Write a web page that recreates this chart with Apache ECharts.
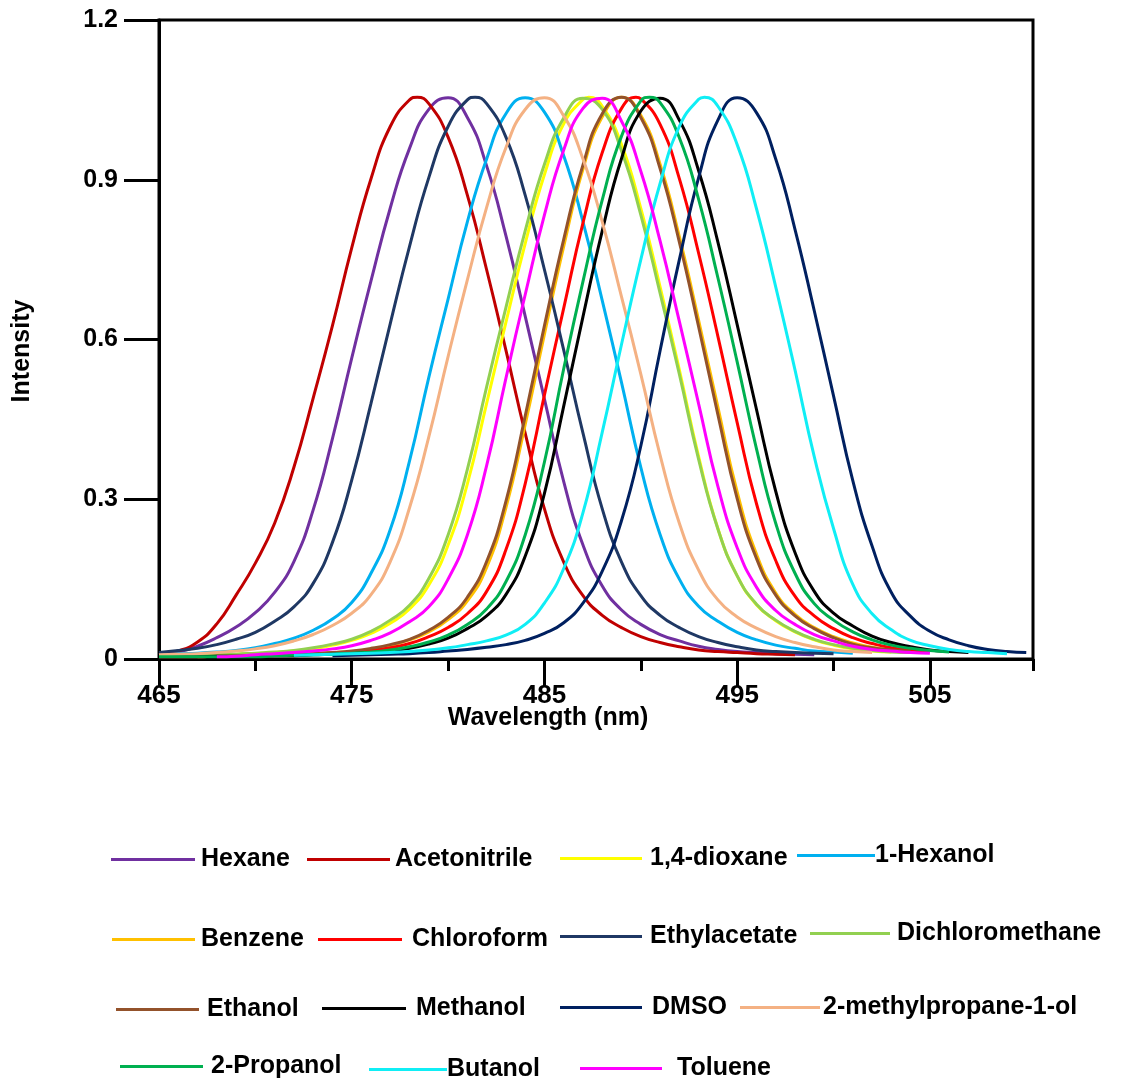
<!DOCTYPE html>
<html>
<head>
<meta charset="utf-8">
<title>Emission spectra in solvents</title>
<script src="https://cdn.jsdelivr.net/npm/echarts@6.0.0/dist/echarts.min.js"></script>
<style>
  html, body { margin: 0; padding: 0; background: #fff; }
  #chart { width: 1121px; height: 1084px; }
</style>
</head>
<body>
<div id="chart"></div>
<script>
// wavelength grid (nm), one value per nm
const wavelength = [465, 466, 467, 468, 469, 470, 471, 472, 473, 474, 475, 476, 477, 478, 479,
  480, 481, 482, 483, 484, 485, 486, 487, 488, 489, 490, 491, 492, 493, 494,
  495, 496, 497, 498, 499, 500, 501, 502, 503, 504, 505, 506, 507, 508, 509, 510]

// intensities (null = no line drawn there)
const hexane = [.008, .013, .024, .040, .060, .087, .125, .183, .280, .414, .565, .710, .847, .959, 1.032,
  1.054, 1.017, .926, .795, .644, .488, .333, .214, .137, .092, .065, .046, .034, .024, .018,
  .014, .012, .010, .009, .008, null, null, null, null, null, null, null, null, null, null, null]
const acetonitrile = [.008, .015, .032, .066, .12, .18, .255, .36, .49, .626, .772, .902, 1.0, 1.05, 1.043,
  .98, .871, .731, .58, .424, .282, .182, .119, .082, .059, .042, .031, .023, .017, .014,
  .012, .010, .009, .008, null, null, null, null, null, null, null, null, null, null, null, null]
const dioxane = [null, null, null, .008, .009, .010, .012, .015, .019, .026, .035, .048, .067, .094, .139,
  .214, .329, .480, .632, .780, .910, 1.005, 1.051, 1.038, .966, .846, .699, .543, .380, .245,
  .156, .102, .072, .051, .036, .026, .019, .015, .013, null, null, null, null, null, null, null]
const hexanol = [.008, .010, .011, .013, .016, .021, .029, .039, .054, .075, .106, .161, .243, .372, .529,
  .676, .821, .939, 1.024, 1.054, 1.027, .945, .821, .673, .519, .360, .234, .150, .099, .071,
  .050, .036, .026, .020, .015, .013, .011, null, null, null, null, null, null, null, null, null]
const benzene = [null, null, .004, .005, .005, .006, .007, .008, .010, .012, .014, .018, .025, .036, .051,
  .074, .109, .172, .284, .440, .610, .775, .920, 1.018, 1.055, 1.021, .929, .793, .636, .473,
  .314, .197, .124, .084, .059, .042, .030, .022, .017, null, null, null, null, null, null, null]
const chloroform = [.004, .004, .004, .005, .005, .005, .007, .008, .009, .010, .013, .016, .021, .029, .042,
  .059, .085, .127, .205, .329, .496, .659, .819, .951, 1.034, 1.052, 1.004, .902, .762, .606,
  .444, .292, .185, .118, .081, .057, .040, .029, .021, .017, .014, null, null, null, null, null]
const ethylacetate = [.012, .016, .020, .027, .037, .050, .071, .098, .142, .219, .336, .480, .630, .775, .904,
  1.0, 1.05, 1.043, .980, .871, .731, .580, .424, .282, .182, .119, .082, .059, .042, .031,
  .023, .017, .014, .012, .011, .010, null, null, null, null, null, null, null, null, null, null]
const dichloromethane = [.005, .006, .007, .008, .009, .011, .013, .016, .021, .028, .037, .052, .073, .101, .151,
  .233, .356, .511, .660, .804, .929, 1.016, 1.053, 1.032, .954, .834, .687, .535, .375, .244,
  .156, .103, .073, .052, .037, .027, .020, .016, .013, .012, null, null, null, null, null, null]
const ethanol = [.004, .004, .004, .005, .005, .006, .007, .009, .010, .012, .015, .020, .027, .037, .054,
  .078, .116, .183, .296, .456, .626, .788, .928, 1.024, 1.055, 1.017, .921, .783, .624, .459,
  .301, .189, .120, .081, .057, .040, .028, .021, .017, .014, null, null, null, null, null, null]
const methanol = [.004, .004, .004, .005, .005, .005, .006, .006, .008, .009, .010, .012, .015, .020, .028,
  .039, .057, .081, .121, .193, .311, .475, .643, .804, .940, 1.029, 1.053, 1.012, .917, .783,
  .628, .469, .315, .200, .127, .086, .062, .043, .031, .023, .017, .014, .012, null, null, null]
const dmso = [null, null, null, null, null, null, null, null, null, .006, .007, .008, .009, .010, .012,
  .015, .018, .022, .027, .035, .048, .068, .105, .165, .260, .400, .579, .750, .904, 1.012,
  1.054, 1.026, .939, .807, .654, .494, .335, .212, .125, .080, .052, .036, .025, .018, .014, .012]
const methylpropanol = [.008, .009, .010, .012, .015, .019, .025, .034, .046, .063, .086, .121, .183, .284, .417,
  .568, .712, .848, .960, 1.032, 1.054, 1.020, .939, .821, .680, .535, .383, .255, .167, .111,
  .079, .058, .042, .031, .023, .017, .014, .012, null, null, null, null, null, null, null, null]
const propanol2 = [.004, .004, .004, .004, .004, .004, .006, .007, .008, .009, .011, .013, .017, .023, .032,
  .045, .065, .094, .145, .233, .370, .545, .709, .862, .982, 1.048, 1.045, .979, .863, .716,
  .558, .395, .255, .161, .104, .073, .051, .036, .026, .020, .016, .013, null, null, null, null]
const butanol = [null, null, null, null, null, null, null, .007, .008, .009, .010, .011, .012, .014, .017,
  .021, .027, .034, .045, .065, .105, .170, .275, .426, .591, .750, .893, 1.0, 1.051, 1.038,
  .966, .846, .699, .543, .380, .245, .140, .085, .055, .035, .025, .018, .014, .012, .010, null]
const toluene = [null, null, null, .004, .005, .008, .010, .012, .015, .019, .025, .035, .049, .070, .098,
  .150, .233, .363, .527, .684, .834, .956, 1.034, 1.053, 1.010, .916, .785, .634, .479, .324,
  .209, .135, .091, .065, .046, .034, .024, .018, .015, .012, .011, null, null, null, null, null]

// emission maxima, same order as the legend
const peakWavelength = [479.9, 478.4, 487.3, 484.05, 489.0, 489.75, 481.4, 487.15,
  488.95, 490.85, 495.05, 484.9, 490.45, 493.3, 487.8]
const peakIntensity = [1.055, 1.055, 1.055, 1.055, 1.055, 1.055, 1.055, 1.055,
  1.055, 1.055, 1.055, 1.055, 1.055, 1.055, 1.055]

// axis ticks
const xLabels = [465, 475, 485, 495, 505]
const xMinorTicks = [470, 480, 490, 500, 510.35]
const yLabels = [0, 0.3, 0.6, 0.9, 1.2]

const solvents = [
  { name: 'Hexane', color: '#7030A0', values: hexane },
  { name: 'Acetonitrile', color: '#C00000', values: acetonitrile },
  { name: '1,4-dioxane', color: '#FFFF00', values: dioxane },
  { name: '1-Hexanol', color: '#00B0F0', values: hexanol },
  { name: 'Benzene', color: '#FFC000', values: benzene },
  { name: 'Chloroform', color: '#FF0000', values: chloroform },
  { name: 'Ethylacetate', color: '#1F3864', values: ethylacetate },
  { name: 'Dichloromethane', color: '#92D050', values: dichloromethane },
  { name: 'Ethanol', color: '#93522B', values: ethanol },
  { name: 'Methanol', color: '#000000', values: methanol },
  { name: 'DMSO', color: '#002060', values: dmso },
  { name: '2-methylpropane-1-ol', color: '#F4B183', values: methylpropanol },
  { name: '2-Propanol', color: '#00B050', values: propanol2 },
  { name: 'Butanol', color: '#10EEF5', values: butanol },
  { name: 'Toluene', color: '#FF00FF', values: toluene },
]

// legend placement: [left, line y, line length, gap to text]
const legendSpots = [
  [111, 859, 84, 6], [307, 859, 83, 5], [560, 858, 82, 8], [797, 855, 78, 0],
  [112, 939, 83, 6], [318, 939, 84, 10], [560, 936, 82, 8], [810, 933, 80, 7],
  [116, 1009, 83, 8], [322, 1008, 84, 10], [560, 1007, 82, 10], [740, 1007, 80, 3],
  [120, 1066, 83, 8], [369, 1069, 78, 0], [580, 1068, 82, 15],
]

const font = "'Liberation Sans', Arial, Helvetica, sans-serif"

let myChart = echarts.init(document.getElementById('chart'))

let legends = solvents.map((s, i) => {
  let spot = legendSpots[i]
  return {
    data: [s.name],
    left: spot[0],
    top: spot[1] - 12,
    padding: 0,
    icon: 'rect',
    itemWidth: spot[2],
    itemHeight: 3,
    selectedMode: false,
    textStyle: {
      fontFamily: font,
      fontSize: 25,
      fontWeight: 'bold',
      color: '#000',
      lineHeight: 24,
      padding: [0, 0, 0, spot[3] - 5],
    },
  }
})

let series = solvents.map((s, k) => {
  let points = wavelength.map((w, i) => [w, s.values[i]]).filter((p) => p[1] !== null)
  // add the read maximum when it sits between two grid points
  let pw = peakWavelength[k]
  if (Math.abs(pw - Math.round(pw)) >= 0.2) {
    points.push([pw, peakIntensity[k]])
    points.sort((a, b) => a[0] - b[0])
  }
  return {
    name: s.name,
    type: 'line',
    xAxisIndex: 0,
    smooth: 0.5,
    showSymbol: false,
    symbol: 'none',
    color: s.color,
    lineStyle: { width: 3, color: s.color },
    data: points,
  }
})

myChart.setOption({
  animation: false,
  backgroundColor: '#fff',
  grid: {
    left: 159,
    right: 88,
    top: 20,
    bottom: 425,
    show: true,
    borderColor: '#000',
    borderWidth: 3,
    outerBoundsMode: 'none',
  },
  legend: legends,
  xAxis: [
    {
      type: 'value',
      position: 'bottom',
      min: 465,
      max: 510.35,
      interval: 10,
      name: 'Wavelength (nm)',
      nameLocation: 'middle',
      nameGap: 47,
      nameMoveOverlap: false,
      nameTextStyle: {
        fontFamily: font,
        fontSize: 25,
        fontWeight: 'bold',
        color: '#000',
        padding: [0, 96, 0, 0],
      },
      axisLine: { show: true, onZero: false, lineStyle: { color: '#000', width: 3 } },
      axisTick: { show: true, length: 28, customValues: xLabels, lineStyle: { color: '#000', width: 3 } },
      axisLabel: {
        margin: 24,
        fontFamily: font,
        fontSize: 26,
        fontWeight: 'bold',
        color: '#000',
        customValues: xLabels,
      },
      splitLine: { show: false },
    },
    {
      // short ticks between the labelled ones
      type: 'value',
      position: 'bottom',
      min: 465,
      max: 510.35,
      interval: 5,
      axisLine: { show: false, onZero: false },
      axisTick: { show: true, length: 12, customValues: xMinorTicks, lineStyle: { color: '#000', width: 3 } },
      axisLabel: { show: false },
      splitLine: { show: false },
    },
  ],
  yAxis: {
    type: 'value',
    min: 0,
    max: 1.2,
    interval: 0.3,
    name: 'Intensity',
    nameLocation: 'middle',
    nameRotate: 90,
    nameGap: 124,
    nameMoveOverlap: false,
    nameTextStyle: {
      fontFamily: font,
      fontSize: 25,
      fontWeight: 'bold',
      color: '#000',
      padding: [0, 23, 0, 0],
    },
    axisLine: { show: true, lineStyle: { color: '#000', width: 3 } },
    axisTick: { show: true, length: 35, lineStyle: { color: '#000', width: 3 } },
    axisLabel: {
      margin: 41,
      fontFamily: font,
      fontSize: 25,
      fontWeight: 'bold',
      color: '#000',
      formatter: (v) => {
        let t = yLabels.find((y) => Math.abs(y - v) < 1e-6)
        return t === undefined ? '' : String(t)
      },
    },
    splitLine: { show: false },
  },
  series: series,
})
</script>
</body>
</html>
